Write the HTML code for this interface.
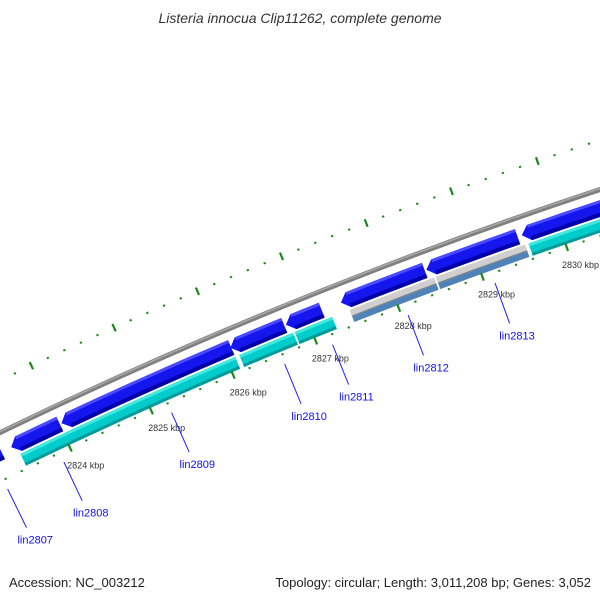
<!DOCTYPE html>
<html><head><meta charset="utf-8"><style>
html,body{margin:0;padding:0;background:#fff;}
svg{display:block;}
text{font-family:"Liberation Sans",sans-serif;}
</style></head><body>
<svg id="map" width="600" height="600" viewBox="0 0 600 600" xmlns="http://www.w3.org/2000/svg">
<text x="300" y="23" text-anchor="middle" font-size="14" font-style="italic" fill="#333">Listeria innocua Clip11262, complete genome</text>
<g id="layer"></g>
<text x="9" y="587" font-size="13" fill="#222">Accession: NC_003212</text>
<text x="591" y="587" text-anchor="end" font-size="13" fill="#222">Topology: circular; Length: 3,011,208 bp; Genes: 3,052</text>
</svg>
<script>
const blueStarts = [2822.4, 2823.40, 2824.02, 2826.08, 2826.75, 2827.41, 2828.43, 2829.56];
const blueEnds   = [2823.30, 2824.02, 2826.11, 2826.75, 2827.20, 2828.43, 2829.53, 2830.8];
const cyanStarts = [2823.46, 2826.14, 2826.81, 2829.60];
const cyanEnds   = [2826.11, 2826.81, 2827.28, 2830.8];
const grayStarts = [2827.47, 2828.50];
const grayEnds   = [2828.50, 2829.58];
const geneNames = ["lin2807","lin2808","lin2809","lin2810","lin2811","lin2812","lin2813"];
const geneLabelKbp = [2823.17, 2823.87, 2825.2, 2826.58, 2827.16, 2828.07, 2829.11];
const tickLabels = [2824, 2825, 2826, 2827, 2828, 2829, 2830];

const CX = 2134, CY = 4838, R = 4895;
const A0 = -115.18, DEG_PER_KBP = 1.055;
function ang(k){ return (A0 + DEG_PER_KBP*(k-2824)) * Math.PI/180; }
function pt(r,k){ const a=ang(k); return [CX + r*Math.cos(a), CY + r*Math.sin(a)]; }
function f(p){ return p[0].toFixed(2)+','+p[1].toFixed(2); }
const NS = 'http://www.w3.org/2000/svg';
const layer = document.getElementById('layer');
function mk(tag, attrs){ const e=document.createElementNS(NS,tag); for(const k in attrs) e.setAttribute(k,attrs[k]); layer.appendChild(e); return e; }

function arcBand(k1,k2,r1,r2,headLeft){
  // r1 outer, r2 inner
  const h = 0.09;
  let d;
  if(headLeft){
    const rm=(r1+r2)/2;
    d='M'+f(pt(rm,k1))+' L'+f(pt(r1,k1+h))+' A'+r1+' '+r1+' 0 0 1 '+f(pt(r1,k2))+' L'+f(pt(r2,k2))+' A'+r2+' '+r2+' 0 0 0 '+f(pt(r2,k1+h))+' Z';
  } else {
    d='M'+f(pt(r1,k1))+' A'+r1+' '+r1+' 0 0 1 '+f(pt(r1,k2))+' L'+f(pt(r2,k2))+' A'+r2+' '+r2+' 0 0 0 '+f(pt(r2,k1))+' Z';
  }
  return d;
}
function arcLine(k1,k2,r){ return 'M'+f(pt(r,k1))+' A'+r+' '+r+' 0 0 1 '+f(pt(r,k2)); }

// backbone
let e = mk('path',{d:arcLine(2822,2831.5,R),stroke:'#808080','stroke-width':5,fill:'none'});
 
e = mk('path',{d:arcLine(2822,2831.5,R+1),stroke:'#a8a8a8','stroke-width':1.5,fill:'none'});
 

// blue genes
for(let i=0;i<blueStarts.length;i++){
  const s=blueStarts[i]+0.01, t=blueEnds[i]-0.01;
  e = mk('path',{d:arcBand(s,t,R-10,R-26,true),fill:'#1515ee'});
   
  e = mk('path',{d:arcBand(s+0.09,t,R-10,R-13,false),fill:'#4a4aff'});
   
  e = mk('path',{d:arcBand(s+0.09,t,R-22,R-26,false),fill:'#0000a8'});
   
}
// cyan genes
for(let i=0;i<cyanStarts.length;i++){
  const s=cyanStarts[i]+0.01, t=cyanEnds[i]-0.01;
  e = mk('path',{d:arcBand(s,t,R-28,R-41,false),fill:'#00cccc'});
   
  e = mk('path',{d:arcBand(s,t,R-28,R-31,false),fill:'#40e8e0'});
   
  e = mk('path',{d:arcBand(s,t,R-38,R-41,false),fill:'#009a9a'});
   
}
// gray/steel genes
for(let i=0;i<grayStarts.length;i++){
  const s=grayStarts[i]+0.01, t=grayEnds[i]-0.01;
  e = mk('path',{d:arcBand(s,t,R-28,R-34,false),fill:'#cfcfcf'});
   
  e = mk('path',{d:arcLine(s,t,R-34.5),stroke:'#777','stroke-width':1,fill:'none'});
   
  e = mk('path',{d:arcBand(s,t,R-35,R-41,false),fill:'#4f83b8'});
   
}

// ticks
for(let j=0;j<=50;j++){
  const k=2822+j*0.2;
  const major = (j%5===0);
  for(const side of [1,-1]){
    const rc = side>0 ? R+47 : R-44;
    const len = major?4:1;
    e = mk('path',{d:'M'+f(pt(rc-len,k))+' L'+f(pt(rc+len,k)),stroke:'#1a8a1a','stroke-width':major?2.2:2.2,fill:'none'});
     
  }
}
// kbp labels
for(let i=0;i<tickLabels.length;i++){
  const p=pt(R-62,tickLabels[i]);
  e = mk('text',{x:(p[0]+8).toFixed(1),y:(p[1]+4).toFixed(1),'text-anchor':'middle','font-size':'9',fill:'#333'});
  e.textContent = tickLabels[i]+' kbp';
   
}
// gene labels
for(let i=0;i<geneNames.length;i++){
  const a=pt(R-54,geneLabelKbp[i]), b=pt(R-97,geneLabelKbp[i]), c=pt(R-110,geneLabelKbp[i]);
  e = mk('line',{x1:a[0].toFixed(1),y1:a[1].toFixed(1),x2:b[0].toFixed(1),y2:b[1].toFixed(1),stroke:'#2020ee','stroke-width':1});
   
  e = mk('text',{x:(c[0]+3).toFixed(1),y:(c[1]+4).toFixed(1),'text-anchor':'middle','font-size':'11',fill:'#1010e0'});
  e.textContent = geneNames[i];
   
}
</script>
</body></html>
